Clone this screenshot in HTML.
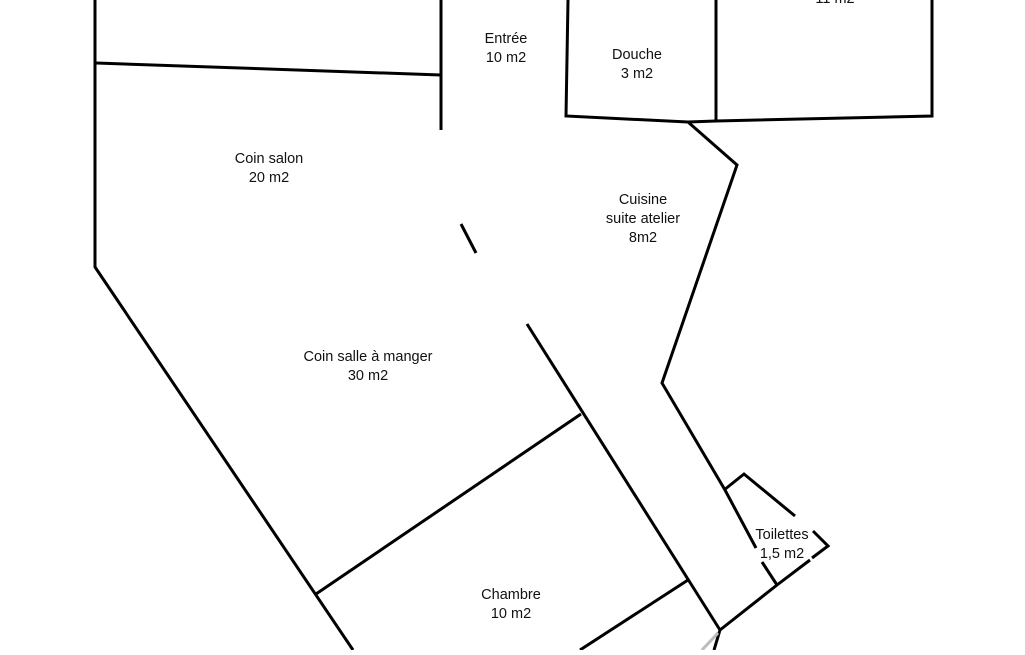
<!DOCTYPE html>
<html><head><meta charset="utf-8"><style>
body{margin:0;background:#fff;width:1025px;height:650px;overflow:hidden}
svg text{font-family:"Liberation Sans",sans-serif;font-size:14.5px;fill:#111;text-anchor:middle}
</style></head><body>
<svg width="1025" height="650" viewBox="0 0 1025 650">
<g stroke="#000" stroke-width="3" fill="none" stroke-linejoin="miter">
<polyline points="95,0 95,267 353,650"/>
<line x1="96" y1="63" x2="441" y2="75"/>
<line x1="441" y1="0" x2="441" y2="130"/>
<line x1="461" y1="224" x2="476" y2="253"/>
<line x1="527" y1="324" x2="720" y2="630"/>
<line x1="316" y1="594" x2="581" y2="414"/>
<line x1="580" y1="650" x2="688" y2="580"/>
<polyline points="568,0 566,116 688,122 716,121 932,116 932,0"/>
<line x1="716" y1="0" x2="716" y2="121"/>
<polyline points="688,122 737,165 662,383 725,490 756,548"/>
<polyline points="762,562 777,585"/>
<polyline points="720,630 777,585 810,560"/>
<polyline points="812,558 828,546 813,531"/>
<polyline points="724,490 744,474 795,516"/>
<line x1="720" y1="630" x2="714" y2="650"/>
</g>
<line x1="718" y1="633" x2="702" y2="650" stroke="#bbb" stroke-width="3"/>
<text x="835" y="3">11 m2</text>
<text x="506" y="43">Entrée</text><text x="506" y="62">10 m2</text>
<text x="637" y="59">Douche</text><text x="637" y="78">3 m2</text>
<text x="269" y="163">Coin salon</text><text x="269" y="182">20 m2</text>
<text x="643" y="204">Cuisine</text><text x="643" y="223">suite atelier</text><text x="643" y="242">8m2</text>
<text x="368" y="361">Coin salle à manger</text><text x="368" y="380">30 m2</text>
<text x="511" y="599">Chambre</text><text x="511" y="618">10 m2</text>
<text x="782" y="539">Toilettes</text><text x="782" y="558">1,5 m2</text>
</svg>
</body></html>
